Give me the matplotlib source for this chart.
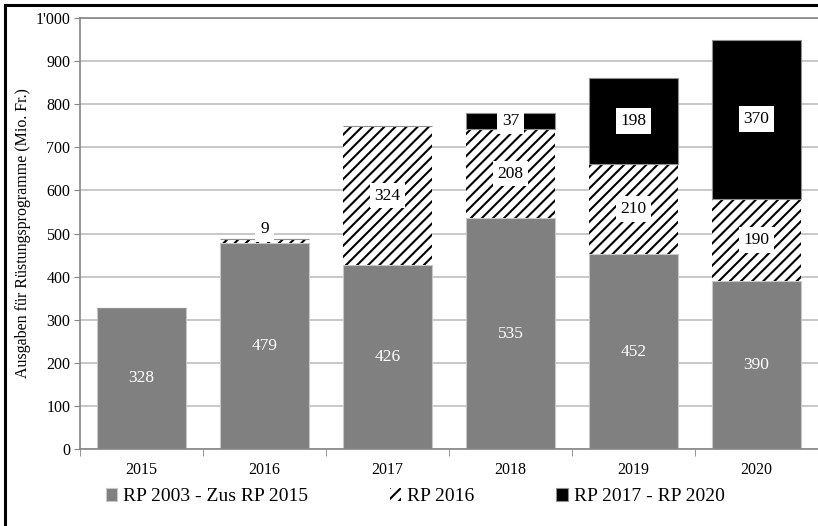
import numpy as np
import matplotlib
matplotlib.use('Agg')
import matplotlib.pyplot as plt
from matplotlib.patches import Rectangle
from matplotlib.ticker import FuncFormatter

plt.rcParams['font.family'] = ['Liberation Serif', 'DejaVu Serif']
plt.rcParams['hatch.linewidth'] = 1.5

# data (Mio. Fr.)
years = ['2015', '2016', '2017', '2018', '2019', '2020']
rp_2003_2015 = [328, 479, 426, 535, 452, 390]
rp_2016 = [0, 9, 324, 208, 210, 190]
rp_2017_2020 = [0, 0, 0, 37, 198, 370]
series_names = ['RP 2003 - Zus RP 2015', 'RP 2016', 'RP 2017 - RP 2020']

fig = plt.figure(figsize=(8.18, 5.26), dpi=100)
ax = fig.add_axes([80 / 818, (526 - 449) / 526, 738 / 818, 431 / 526])

x = np.arange(len(years))
w = 0.73
base2 = np.array(rp_2003_2015)
base3 = base2 + np.array(rp_2016)

b1 = ax.bar(x, rp_2003_2015, w, color='#808080', edgecolor='#c8c8c8', lw=0.8,
            label=series_names[0], zorder=2)
b2 = ax.bar(x, rp_2016, w, bottom=base2, color='white', edgecolor='black', lw=0,
            hatch='///', label=series_names[1], zorder=2)
b3 = ax.bar(x, rp_2017_2020, w, bottom=base3, color='black', edgecolor='#909090',
            lw=0.8, label=series_names[2], zorder=2)

# value labels
box = dict(facecolor='white', edgecolor='none', pad=3.5)
for i in range(len(years)):
    ax.text(x[i], rp_2003_2015[i] / 2, str(rp_2003_2015[i]), ha='center', va='center',
            color='white', fontsize=12.5, zorder=4)
    v = rp_2016[i]
    if v >= 50:
        ax.text(x[i], base2[i] + v / 2, str(v), ha='center', va='center',
                fontsize=12.5, bbox=box, zorder=4)
    elif v > 0:
        ax.text(x[i], base3[i] + 4, str(v), ha='center', va='bottom',
                fontsize=12.5, bbox=box, zorder=4)
    v = rp_2017_2020[i]
    if v > 0:
        ax.text(x[i], base3[i] + v / 2, str(v), ha='center', va='center',
                fontsize=12.5, bbox=box, zorder=4)

ax.set_xlim(-0.5, len(years) - 0.5)
ax.set_ylim(0, 1000)
ax.set_yticks(np.arange(0, 1001, 100))
ax.yaxis.set_major_formatter(FuncFormatter(
    lambda v, p: f"{int(v):,}".replace(',', "'")))
ax.set_xticks(x)
ax.set_xticklabels(years)
ax.set_xticks(np.arange(-0.5, len(years)), minor=True)
ax.tick_params(axis='x', which='major', length=0, labelsize=11.5, pad=9)
ax.tick_params(axis='x', which='minor', length=5, color='#868686')
ax.tick_params(axis='y', length=4, color='#868686', labelsize=11.5, pad=3)
ax.yaxis.grid(True, color='#bfbfbf', lw=1.2, zorder=0)
ax.set_axisbelow(True)
for s in ['left', 'bottom', 'top']:
    ax.spines[s].set_color('#868686')
    ax.spines[s].set_linewidth(1.2)
ax.spines['right'].set_visible(False)

ax.set_ylabel('Ausgaben für Rüstungsprogramme (Mio. Fr.)', fontsize=11.5, labelpad=3)

fig.legend(handles=[b1, b2, b3], loc='lower left', bbox_to_anchor=(90 / 818, 0.01),
           ncol=3, frameon=False, fontsize=14, handlelength=0.6, handleheight=0.6,
           handletextpad=0.3, columnspacing=4.2, borderaxespad=0.4)

# outer frame (only left and top sides fall inside the picture)
fig.add_artist(Rectangle((5 / 818, -0.1), 1.2, (521 / 526) + 0.1, transform=fig.transFigure,
                         fill=False, edgecolor='black', lw=2.2))

fig.savefig('out.png', dpi=100)
